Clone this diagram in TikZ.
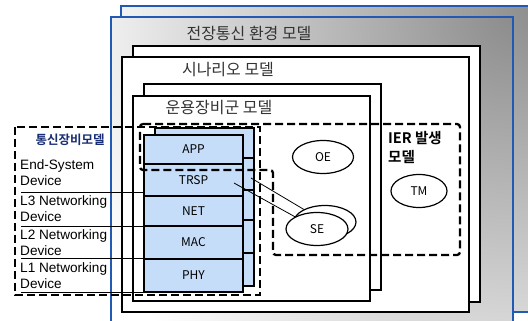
\documentclass[tikz,border=0pt]{standalone}
\usepackage{fontspec}
\setmainfont{Liberation Sans}
\newfontfamily\kr{Noto Sans CJK KR}
\newfontfamily\krb{Noto Sans CJK KR Bold}
\usetikzlibrary{positioning,shapes.geometric}
\definecolor{layerblue}{RGB}{197,221,248}
\definecolor{frameblue}{RGB}{32,90,180}
\definecolor{navytxt}{RGB}{25,45,115}

\begin{document}
\begin{tikzpicture}[x=1pt, y=-1pt,
  envshade/.style={inner color=black!45, outer color=white},
  envframe/.style={draw=frameblue, line width=1.3pt},
  scen/.style={draw=black, line width=1.3pt, fill=white},
  title/.style={font=\kr\fontsize{16}{19}\selectfont, text=black!80},
  devlbl/.style={font=\fontsize{13.6}{16}\selectfont, align=left, anchor=west, inner sep=0pt},
  sepline/.style={draw=black, line width=0.9pt},
  stackrow/.style={draw=black, line width=1.2pt, fill=layerblue, minimum width=99pt, outer sep=0pt, inner sep=0pt, font=\kr\fontsize{12}{14}\selectfont},
  stackback/.style={draw=black, line width=1.2pt, fill=layerblue},
  ell/.style={ellipse, draw=black, line width=1.2pt, fill=white, minimum width=61pt, minimum height=33pt, inner sep=0pt, font=\kr\fontsize{12}{14}\selectfont},
  link/.style={draw=black, line width=0.8pt},
  dashbox/.style={draw=black, line width=2.3pt, dash pattern=on 8pt off 4pt}
]
\useasboundingbox (0,0) rectangle (528,321);

% environment model
\begin{scope}
  \clip (121,6) rectangle (545,312);
  \fill[white] (121,6) rectangle (545,312);
  \shade[envshade] (540,6) circle (470pt);
\end{scope}
\draw[envframe] (121,6) rectangle (545,312);
\begin{scope}
  \clip (111,17) rectangle (513,324);
  \fill[white] (111,17) rectangle (513,324);
  \shade[envshade] (513,17) circle (470pt);
\end{scope}
\draw[envframe] (111,17) rectangle (513,324);
\node[title] (envtitle) at (249,33) {전장통신 환경 모델};

% scenario model
\draw[scen] (133,46) rectangle (480,302);
\draw[scen] (122,57) rectangle (469,312);
\node[title] (scentitle) at (228,70) {시나리오 모델};

% unit model
\draw[scen] (144,84) rectangle (381,290);
\draw[scen] (133,96) rectangle (370,301);
\node[title] (unittitle) at (219,108) {운용장비군 모델};

% device labels
\node[font=\krb\fontsize{12.5}{14}\selectfont, text=navytxt] (commtitle) at (70,140) {통신장비모델};
\node[devlbl] (endsys) at (20,173) {End-System\\Device};
\node[devlbl] (lthree) at (20,209) {L3 Networking\\Device};
\node[devlbl] (ltwo) at (20,242.5) {L2 Networking\\Device};
\node[devlbl] (lone) at (20,275.5) {L1 Networking\\Device};
\foreach \y in {192,226,258,292}
  \draw[sepline] (21,\y) -- (144,\y);

% protocol stack
\foreach \t/\b in {128/158,158/190,190/220,220/253,253/286}
  \draw[stackback] (155,\t) rectangle (254,\b);
\node[stackrow, minimum height=29pt, anchor=north west] (app) at (144,135) {APP};
\node[stackrow, minimum height=32pt, below=0pt of app] (trsp) {TRSP};
\node[stackrow, minimum height=30pt, below=0pt of trsp] (net) {NET};
\node[stackrow, minimum height=33pt, below=0pt of net] (mac) {MAC};
\node[stackrow, minimum height=33pt, below=0pt of mac] (phy) {PHY};

% entities
\node[ell] (oe) at (323,157) {OE};
\node[ell, minimum width=56pt] (tm) at (419,191) {TM};
\node[ell, minimum width=62pt] (seback) at (325,222) {};
\node[ell, minimum width=62pt] (se) at (317,229) {SE};
\coordinate (trspa) at (234,183);
\coordinate (trspb) at (251,178);
\draw[link] (trspa) -- (se);
\draw[link] (trspb) -- (seback);

% dashed groups
\draw[dashbox] (15,127) rectangle (260,295);
\draw[dashbox, rounded corners=3pt] (140,124) -- (460,124) -- (460,255) -- (273,255) -- (273,170) -- (140,170) -- cycle;
\node[font=\krb\fontsize{14.5}{19}\selectfont, align=left, anchor=west, inner sep=0pt] (ier) at (388,147.5) {IER 발생\\모델};

\end{tikzpicture}
\end{document}
